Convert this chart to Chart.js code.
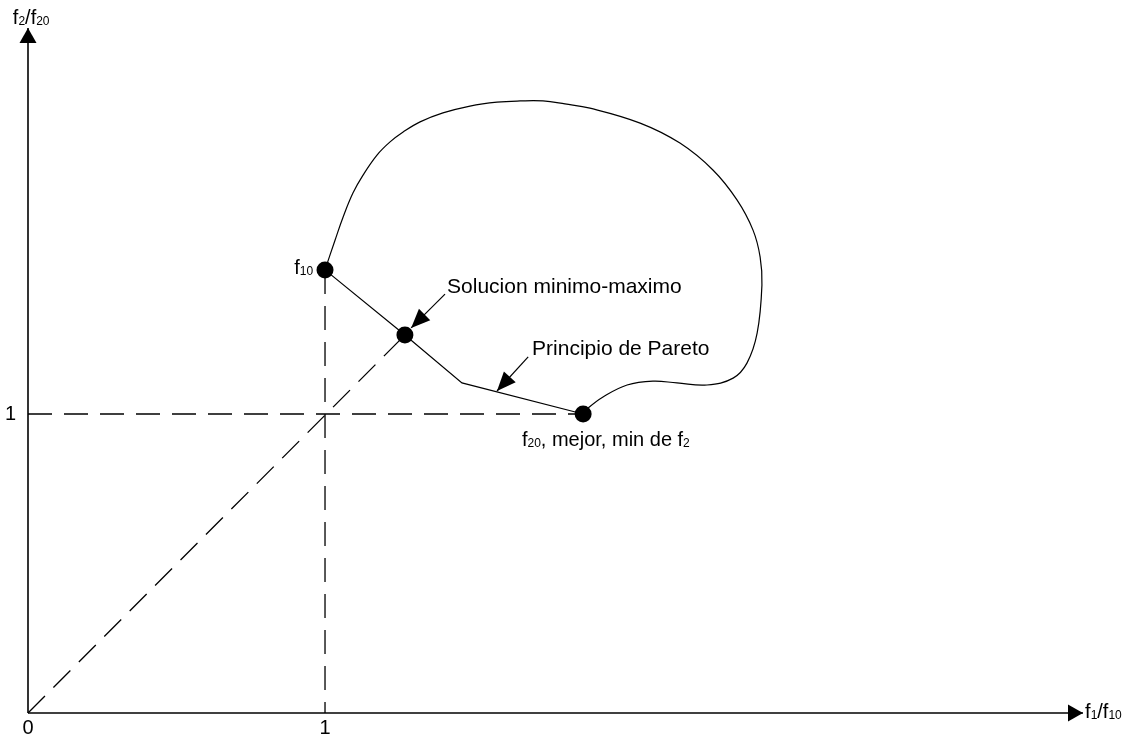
<!DOCTYPE html>
<html><head><meta charset="utf-8">
<style>html,body{margin:0;padding:0;background:#fff;} canvas{display:block;}</style>
<script src="https://cdn.jsdelivr.net/npm/chart.js@4.4.1/dist/chart.umd.min.js"></script>
</head><body>
<canvas id="c" width="1131" height="737"></canvas>
<script>
// ---- data (normalised objectives f1/f10 and f2/f20) ----
const xTickValues = [0, 1];
const xTickLabels = ['0', '1'];
const yTickValues = [1];
const yTickLabels = ['1'];

// boundary of the feasible region (from f10 round to f20)
const boundaryX = [1.000, 1.034, 1.061, 1.094, 1.128, 1.175, 1.219, 1.263, 1.320, 1.397, 1.488, 1.579, 1.657, 1.734, 1.808, 1.892, 2.061, 2.195, 2.306, 2.387, 2.441, 2.465, 2.471, 2.455, 2.421, 2.374, 2.286, 2.185, 2.104, 2.017, 1.936, 1.886, 1.869];
const boundaryY = [1.482, 1.582, 1.659, 1.739, 1.799, 1.866, 1.910, 1.943, 1.977, 2.007, 2.030, 2.043, 2.047, 2.047, 2.037, 2.023, 1.973, 1.906, 1.816, 1.716, 1.615, 1.525, 1.431, 1.271, 1.171, 1.120, 1.097, 1.104, 1.110, 1.097, 1.057, 1.020, 1.000];

// Pareto front
const paretoX = [1.0, 1.269, 1.461, 1.869];
const paretoY = [1.482, 1.264, 1.104, 1.0];

// key points: f10, min-max solution, f20
const keyX = [1.0, 1.269, 1.869];
const keyY = [1.482, 1.264, 1.0];

// annotation arrows [from, to]
const arrowSolX = [1.404, 1.290];
const arrowSolY = [1.401, 1.288];
const arrowParX = [1.684, 1.579];
const arrowParY = [1.191, 1.077];

const axisXMax = 3.552;
const axisYMax = 2.291;

const FONT = '"Liberation Sans", Arial, Helvetica, sans-serif';
const INK = '#000';

const pts = (xs, ys) => xs.map((x, i) => ({x, y: ys[i]}));

const textLabels = [
  {x: 1.411, y: 1.405, size: 21, align: 'left', parts: [['Solucion minimo-maximo', 0]]},
  {x: 1.697, y: 1.197, size: 21, align: 'left', parts: [['Principio de Pareto', 0]]},
  {x: 1.663, y: 0.893, size: 20, align: 'left', parts: [['f', 0], ['20', 1], [', mejor, min de f', 0], ['2', 1]]},
  {x: 0.960, y: 1.468, size: 20, align: 'right', parts: [['f', 0], ['10', 1]]},
  {x: -0.051, y: 2.304, size: 20, align: 'left', parts: [['f', 0], ['2', 1], ['/f', 0], ['20', 1]]},
  {x: 3.559, y: -0.017, size: 20, align: 'left', parts: [['f', 0], ['1', 1], ['/f', 0], ['10', 1]]}
];

const arrowPlugin = {
  id: 'arrowHeads',
  afterDatasetsDraw(chart) {
    const ctx = chart.ctx;
    chart.data.datasets.forEach((ds, i) => {
      if (!ds.arrowHead) return;
      const meta = chart.getDatasetMeta(i);
      const n = meta.data.length;
      const a = meta.data[n - 2], b = meta.data[n - 1];
      const ang = Math.atan2(b.y - a.y, b.x - a.x);
      const L = ds.arrowHead.len, H = ds.arrowHead.half;
      ctx.save();
      ctx.translate(b.x, b.y);
      ctx.rotate(ang);
      ctx.beginPath();
      ctx.moveTo(0, 0);
      ctx.lineTo(-L, -H);
      ctx.lineTo(-L, H);
      ctx.closePath();
      ctx.fillStyle = INK;
      ctx.fill();
      ctx.restore();
    });
  }
};

const textPlugin = {
  id: 'richText',
  afterDraw(chart) {
    const ctx = chart.ctx;
    const sx = chart.scales.x, sy = chart.scales.y;
    ctx.save();
    ctx.fillStyle = INK;
    ctx.textBaseline = 'alphabetic';
    ctx.textAlign = 'left';
    textLabels.forEach(lb => {
      const setF = sub => { ctx.font = (sub ? Math.round(lb.size * 0.6) : lb.size) + 'px ' + FONT; };
      let w = 0;
      lb.parts.forEach(p => { setF(p[1]); w += ctx.measureText(p[0]).width; });
      let px = sx.getPixelForValue(lb.x);
      const py = sy.getPixelForValue(lb.y);
      if (lb.align === 'right') px -= w;
      lb.parts.forEach(p => {
        setF(p[1]);
        ctx.fillText(p[0], px, py + (p[1] ? 1 : 0));
        px += ctx.measureText(p[0]).width;
      });
    });
    ctx.restore();
  }
};

const base = {showLine: true, pointRadius: 0, pointHoverRadius: 0, borderColor: INK, backgroundColor: INK, tension: 0, clip: false};

new Chart(document.getElementById('c'), {
  type: 'scatter',
  data: {
    datasets: [
      // axes
      Object.assign({}, base, {data: [{x: 0, y: 0}, {x: axisXMax, y: 0}], borderWidth: 1.6, arrowHead: {len: 15, half: 8.5}}),
      Object.assign({}, base, {data: [{x: 0, y: 0}, {x: 0, y: axisYMax}], borderWidth: 1.6, arrowHead: {len: 15, half: 8.5}}),
      // dashed guides
      Object.assign({}, base, {data: [{x: keyX[0], y: keyY[0]}, {x: keyX[0], y: 0}], borderWidth: 1.3, borderDash: [24, 12]}),
      Object.assign({}, base, {data: [{x: 0, y: keyY[2]}, {x: keyX[2], y: keyY[2]}], borderWidth: 1.3, borderDash: [24, 12]}),
      Object.assign({}, base, {data: [{x: 0, y: 0}, {x: keyX[1], y: keyY[1]}], borderWidth: 1.3, borderDash: [24, 12]}),
      // feasible boundary
      Object.assign({}, base, {data: pts(boundaryX, boundaryY), borderWidth: 1.2, tension: 0.4}),
      // Pareto front
      Object.assign({}, base, {data: pts(paretoX, paretoY), borderWidth: 1.2}),
      // annotation arrows
      Object.assign({}, base, {data: pts(arrowSolX, arrowSolY), borderWidth: 1.2, arrowHead: {len: 19, half: 8}}),
      Object.assign({}, base, {data: pts(arrowParX, arrowParY), borderWidth: 1.2, arrowHead: {len: 19, half: 8}}),
      // key points
      {data: pts(keyX, keyY), showLine: false, pointRadius: 8.5, pointHoverRadius: 8.5, pointBorderWidth: 0, backgroundColor: INK, borderColor: INK, clip: false}
    ]
  },
  options: {
    responsive: false,
    animation: false,
    events: [],
    layout: {padding: {top: 28, right: 48, left: 0, bottom: 0}},
    plugins: {legend: {display: false}, tooltip: {enabled: false}},
    scales: {
      x: {
        type: 'linear', min: 0, max: axisXMax,
        grid: {display: false, drawTicks: false, tickLength: 0}, border: {display: false},
        afterBuildTicks: s => { s.ticks = xTickValues.map(v => ({value: v})); },
        afterFit: s => { s.height = 24; },
        ticks: {padding: 3, color: INK, font: {family: FONT, size: 20}, maxRotation: 0,
          callback: v => xTickLabels[xTickValues.indexOf(v)]}
      },
      y: {
        type: 'linear', min: 0, max: axisYMax,
        grid: {display: false, drawTicks: false, tickLength: 0}, border: {display: false},
        afterBuildTicks: s => { s.ticks = yTickValues.map(v => ({value: v})); },
        afterFit: s => { s.width = 28; },
        ticks: {padding: 12, color: INK, font: {family: FONT, size: 20},
          callback: v => yTickLabels[yTickValues.indexOf(v)]}
      }
    }
  },
  plugins: [arrowPlugin, textPlugin]
});
</script>
</body></html>
